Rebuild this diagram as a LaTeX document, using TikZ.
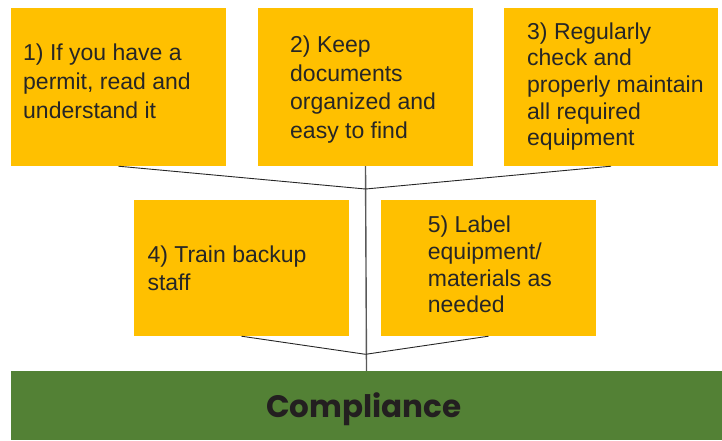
\documentclass[tikz,border=0pt]{standalone}
\usepackage{fontspec}
\usetikzlibrary{fadings}
\setmainfont{Liberation Sans}
\newfontfamily\compfont{Poppins}
\definecolor{boxyellow}{HTML}{FFC000}
\definecolor{compgreen}{HTML}{538135}
\definecolor{inktext}{HTML}{262626}
\definecolor{comptext}{HTML}{231F20}
\definecolor{trunkgray}{HTML}{595959}
\tikzfading[name=vfade, top color=transparent!100, middle color=transparent!0, bottom color=transparent!100]
\tikzset{
  stepbox/.style={fill=boxyellow, draw=none, inner sep=0pt, minimum width=215pt},
  tall/.style={minimum height=158pt},
  short/.style={minimum height=136pt},
  txt/.style={anchor=west, inner sep=0pt, align=left, text=inktext},
  loose/.style={font=\fontsize{23}{28.8}\selectfont},
  tight/.style={font=\fontsize{23}{26.7}\selectfont},
  feeder/.style={draw=inktext, line width=0.9pt},
  trunk/.style={draw=trunkgray, line width=1.4pt},
  compbar/.style={fill=compgreen, draw=none, inner sep=0pt, minimum width=711pt, minimum height=69pt}
}
\begin{document}
\begin{tikzpicture}[x=1pt,y=-1pt]
\useasboundingbox (0,0) rectangle (722,440);
% faint shadow at the left edge
\shade[left color=gray!40, right color=white, path fading=vfade] (0,228) rectangle (10,338);

\node[stepbox, tall] (b1) at (118.5,87) {};
\node[stepbox, tall] (b2) at (365.5,87) {};
\node[stepbox, tall, minimum width=214pt] (b3) at (611,87) {};
\node[stepbox, short] (b4) at (241.5,268) {};
\node[stepbox, short] (b5) at (488.5,268) {};
\node[compbar] (comp) at (366.5,405.5) {};

\node[txt, loose] (t1) at (23,81.5) {1) If you have a\\permit, read and\\understand it};
\node[txt, loose] (t2) at (290,89.5) {2) Keep\\documents\\organized and\\easy to find};
\node[txt, tight] (t3) at (527,86.5) {3) Regularly\\check and\\properly maintain\\all required\\equipment};
\node[txt, font=\fontsize{23}{28}\selectfont] (t4) at (147.3,268.3) {4) Train backup\\staff};
\node[txt, tight] (t5) at (427.7,264.6) {5) Label\\equipment/\\materials as\\needed};
\node[anchor=base, inner sep=0pt, text=comptext, font=\compfont\bfseries\fontsize{31}{33}\selectfont] (ct) at (364,417.3) {Compliance};

\coordinate (j1) at (365.5,189);
\coordinate (j2) at (365.5,354.3);

\draw[trunk] (b2.south) -- (comp.north);
\draw[feeder] (b1.south) -- (j1);
\draw[feeder] (b3.south) -- (j1);
\draw[feeder] (b4.south) -- (j2);
\draw[feeder] (b5.south) -- (j2);
\end{tikzpicture}
\end{document}
